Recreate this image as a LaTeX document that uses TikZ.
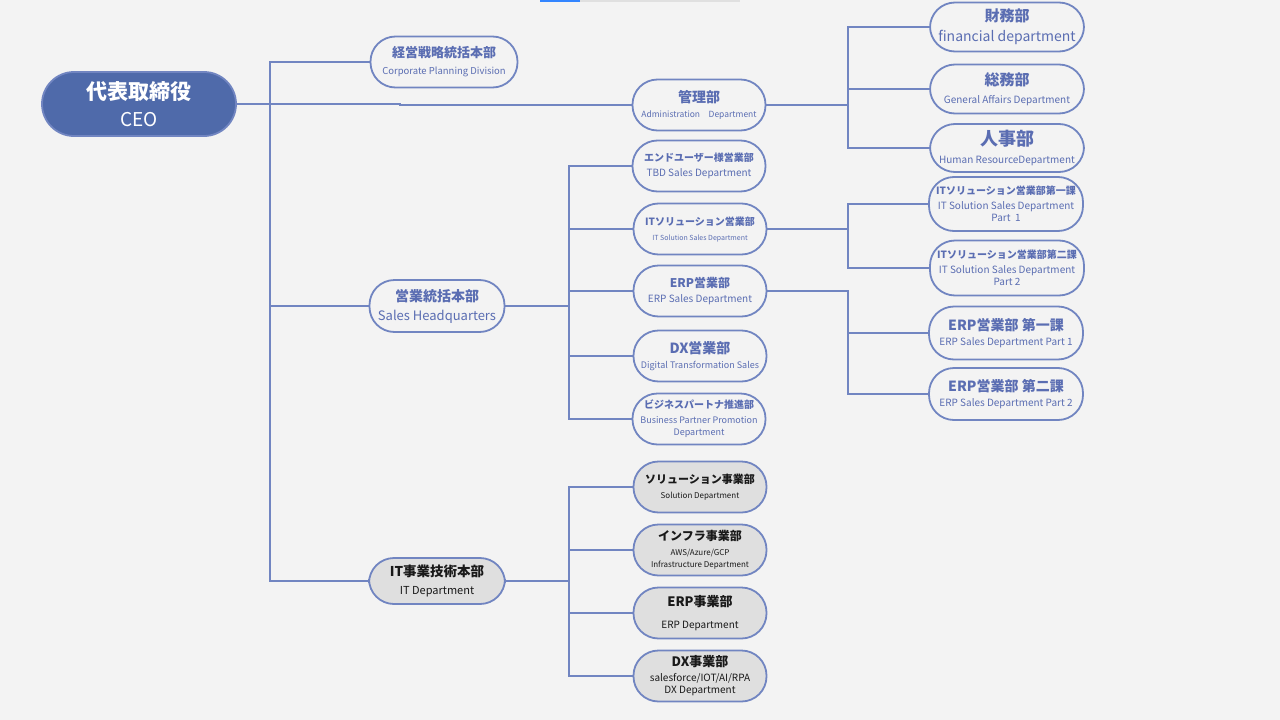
\documentclass[tikz,border=0pt]{standalone}
\usepackage{fontspec}
\setmainfont{Noto Sans CJK JP}
\definecolor{bgcol}{HTML}{F3F3F3}
\definecolor{linecol}{HTML}{7185C1}
\definecolor{ceofill}{HTML}{4F6AAA}
\definecolor{titlecol}{HTML}{5A6DB2}
\definecolor{grayfill}{HTML}{DFDFDF}
\newcommand{\deptext}[5][3pt]{\fontsize{#2}{#2}\selectfont\bfseries #3\\[#1]\fontsize{#4}{#4}\selectfont\mdseries #5}
\newcommand{\sz}[1]{\fontsize{#1}{#1}\selectfont}

\begin{document}
\begin{tikzpicture}
  [x=1pt,y=-1pt,
   box/.style={rectangle,draw=linecol,line width=1.8pt,align=center,inner sep=0pt,
     minimum width=133pt,minimum height=51pt,rounded corners=25pt},
   bluebox/.style={box,fill=bgcol,text=titlecol},
   graybox/.style={box,fill=grayfill,text=black!90},
   wide/.style={minimum width=154pt},
   ceobox/.style={box,fill=ceofill,text=white,minimum width=194pt,minimum height=64pt,rounded corners=32pt},
   link/.style={draw=linecol,line width=1.8pt}]

  \fill[bgcol] (0,0) rectangle (1280,720);
  \useasboundingbox (0,0) rectangle (1280,720);
  \fill[black!12] (540,0) rectangle (740,1.5);
  \fill[blue!60!cyan!80] (540,0) rectangle (580,1.5);

  % top
  \node [ceobox] (ceo) at (139,104) {\deptext[10pt]{21}{代表取締役}{19}{CEO}};
  \node [bluebox,minimum width=147pt] (corp) at (444,62) {\deptext[5pt]{13}{経営戦略統括本部}{9.5}{Corporate Planning Division}};
  \node [bluebox] (kanri) at (699,105) {\deptext{14}{管理部}{8.5}{Administration\quad Department}};
  \node [bluebox,wide,minimum height=49pt] (zaimu) at (1007,27) {\deptext[6pt]{15}{財務部}{14}{financial department}};
  \node [bluebox,wide,minimum height=49pt] (soumu) at (1007,89) {\deptext[6pt]{15}{総務部}{10}{General Affairs Department}};
  \node [bluebox,wide,minimum height=48pt] (jinji) at (1007,148) {\deptext[6pt]{18}{人事部}{10}{Human ResourceDepartment}};

  % sales
  \node [bluebox,minimum width=135pt,minimum height=52pt] (sales) at (437,306) {\deptext[7pt]{14}{営業統括本部}{13}{Sales Headquarters}};
  \node [bluebox] (enduser) at (699,166) {\deptext{10}{エンドユーザー様営業部}{10}{TBD Sales Department}};
  \node [bluebox] (itsol) at (700,229) {\deptext{10}{ITソリューション営業部}{7}{IT Solution Sales Department}};
  \node [bluebox] (erps) at (700,291) {\deptext{12}{ERP営業部}{10}{ERP Sales Department}};
  \node [bluebox] (dxs) at (700,356) {\deptext{14}{DX営業部}{9}{Digital Transformation Sales}};
  \node [bluebox] (bp) at (699,419) {\deptext{10}{ビジネスパートナ推進部}{9}{Business Partner Promotion\\\sz{9}Department}};
  \node [bluebox,wide,minimum height=54pt] (its1) at (1006,204) {\deptext{10}{ITソリューション営業部第一課}{10}{IT Solution Sales Department\\Part\ \ 1}};
  \node [bluebox,wide,minimum height=55pt] (its2) at (1007,268) {\deptext{10}{ITソリューション営業部第二課}{10}{IT Solution Sales Department\\Part 2}};
  \node [bluebox,wide,minimum height=53pt] (erp1) at (1006,333) {\deptext{14}{ERP営業部 第一課}{10}{ERP Sales Department Part 1}};
  \node [bluebox,wide,minimum height=52pt] (erp2) at (1006,394) {\deptext{14}{ERP営業部 第二課}{10}{ERP Sales Department Part 2}};

  % it
  \node [graybox,minimum width=136pt,minimum height=46pt] (itd) at (437,581) {\deptext[6pt]{13.5}{IT事業技術本部}{11}{IT Department}};
  \node [graybox] (sol) at (700,487) {\deptext{11}{ソリューション事業部}{8}{Solution Department}};
  \node [graybox] (infra) at (700,550) {\deptext{12}{インフラ事業部}{8}{AWS/Azure/GCP\\\sz{8}Infrastructure Department}};
  \node [graybox] (erpj) at (700,613) {\deptext[10pt]{13}{ERP事業部}{10}{ERP Department}};
  \node [graybox] (dxj) at (700,676) {\deptext{13}{DX事業部}{10}{salesforce/IOT/AI/RPA\\DX Department}};

  \coordinate (cbus) at (270,104);
  \coordinate (kstep) at (400,104);
  \coordinate (kbus) at (848,105);
  \coordinate (sbus) at (569,306);
  \coordinate (ibus) at (848,229);
  \coordinate (ebus) at (848,291);
  \coordinate (tbus) at (569,581);

  \draw [link] (ceo.east) -- (kstep) |- (kanri.west);
  \foreach \t in {corp,sales,itd}
    \draw [link] (ceo.east) -- (cbus) |- (\t.west);
  \foreach \t in {zaimu,soumu,jinji}
    \draw [link] (kanri.east) -- (kbus) |- (\t.west);
  \foreach \t in {enduser,itsol,erps,dxs,bp}
    \draw [link] (sales.east) -- (sbus) |- (\t.west);
  \foreach \t in {its1,its2}
    \draw [link] (itsol.east) -- (ibus) |- (\t.west);
  \foreach \t in {erp1,erp2}
    \draw [link] (erps.east) -- (ebus) |- (\t.west);
  \foreach \t in {sol,infra,erpj,dxj}
    \draw [link] (itd.east) -- (tbus) |- (\t.west);
\end{tikzpicture}
\end{document}
